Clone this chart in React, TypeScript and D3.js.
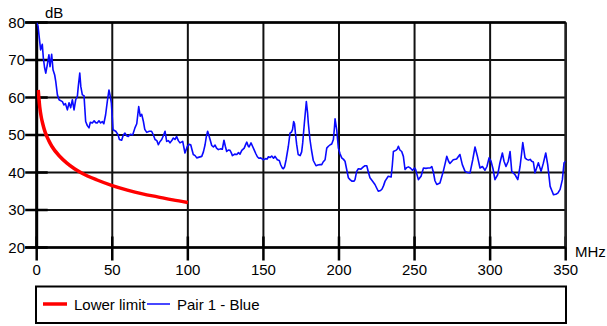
import React from "react";
import * as d3 from "d3";

const xTicks = [0, 50, 100, 150, 200, 250, 300, 350];
const yTicks = [20, 30, 40, 50, 60, 70, 80];

const limitFreq = [1, 2, 3, 4, 5, 6, 8, 10, 15, 20, 25, 30, 40, 50, 60, 70, 80, 90, 100];
const limitDb = [62, 57.5, 54.8, 53, 51.5, 50.3, 48.5, 47, 44.4, 42.5, 41, 39.8, 38, 36.5, 35.3, 34.3, 33.5, 32.7, 32];

const blueFreq = [
  0, 0.9, 1.5, 2.6, 3.2, 3.7, 4.4, 5.2, 6, 7, 8.1, 8.8, 9.9, 10.8, 11.9, 12.6, 13.7, 14.8, 17, 18, 19,
  20.3, 21.4, 22.5, 23.6, 24.7, 25.8, 26.9, 27.5, 28.5, 29.2, 30.2, 31.3, 32.4, 33.5, 34.6, 35.5, 36.8,
  38, 39, 40, 41.2, 42.3, 43.4, 44.4, 45.6, 46.7, 47.8, 48.5, 49.4, 50.5, 52.3, 53.8, 54.7, 56.2, 57.3,
  58.4, 59.5, 60.6, 62, 63.5, 65, 66.2, 67.5, 68.5, 69.5, 70.6, 71.5, 72.8, 74.5, 76, 77.2, 78.3, 79.5,
  80.5, 81.5, 82.7, 84, 84.9, 86, 87.2, 88.2, 89.5, 90.4, 91.5, 92.6, 93.7, 94.8, 96.6, 98.1, 99.7,
  100.8, 101.9, 102.8, 103.6, 104.8, 105.9, 107.5, 109.2, 110.3, 111.4, 112.2, 113.1, 114, 114.7, 115.8,
  116.9, 118, 119, 120.2, 121.5, 122.8, 123.9, 124.8, 125.7, 126.8, 127.9, 128.7, 129.5, 131, 132.4,
  133.5, 134.5, 135.7, 137.3, 138.3, 139, 140, 140.5, 141.8, 142.8, 143.8, 145, 146, 147, 148.2, 150,
  151.5, 152.5, 153.3, 154.5, 155.5, 156.7, 157.7, 159.2, 160.5, 161.5, 162.5, 163.2, 164, 165, 166.5,
  167.6, 168.6, 169.3, 170, 170.6, 171.3, 172, 173, 174.3, 175.3, 176, 177.1, 178.4, 179.2, 179.7,
  180.8, 181.8, 183, 184.8, 186, 187.5, 188.6, 189.5, 190.8, 191.9, 193, 194.2, 195.2, 196.3, 197,
  197.4, 198.5, 199.6, 200.7, 201.8, 203, 204, 205, 206.2, 207.3, 208.5, 210, 210.6, 211.7, 212.8,
  214.5, 216.1, 217.2, 218.4, 219.5, 220.5, 222, 223.8, 225, 226, 227.5, 228.5, 229.5, 230.5, 232.6,
  234.5, 235.3, 236, 237.6, 238.5, 239.3, 240.3, 241.5, 242.6, 243.7, 244.8, 245.9, 247.2, 248.6, 250,
  250.7, 252.5, 254.3, 255.9, 257.5, 259, 260.3, 261.4, 262.5, 263.5, 264.7, 266.8, 269, 270.3, 271.3,
  272.5, 273.4, 275.6, 277.8, 280, 281.6, 283.4, 285, 286.7, 288.5, 290, 291.6, 293.3, 294.9, 296.6,
  297.9, 299.3, 300.6, 301.9, 303.2, 305, 306.5, 308.1, 309.2, 310.5, 312, 313.2, 314.3, 316.5, 318.3,
  319.8, 320.8, 321.6, 323.1, 324.2, 325.3, 326.5, 327.5, 328.6, 329.7, 331.9, 333.7, 335.2, 336.8,
  338.1, 339.7, 341, 341.9, 343.5, 344.8, 346.3, 347.8, 348.9, 350,
];
const blueDb = [
  80, 79, 76.7, 72.7, 73.5, 74.2, 70.5, 68, 66.5, 68.7, 71.4, 68.2, 71.5, 67.4, 66, 64.3, 60.7, 59.4, 58.9, 58, 58.4,
  56.7, 58.6, 57.3, 59.4, 56.7, 59.4, 60.3, 62.9, 66.5, 62.9, 60.7, 60.5, 53.6, 52.5, 51.9, 53.4, 53.2,
  53.8, 53.3, 53.2, 53.8, 53.2, 53.6, 53, 55.4, 58.9, 62, 60.7, 58.5, 51.4, 51, 50.1, 48.8, 48.6, 50,
  50.5, 49.8, 49.6, 50.2, 50, 51.9, 53, 57.6, 55, 55.5, 53.6, 51.5, 50.7, 51, 51, 50, 48.8, 48.5,
  47.4, 48.2, 48.8, 50, 51, 48.3, 48.5, 47.9, 48.6, 49.2, 48.8, 49.6, 48.5, 47.9, 48.3, 45.2, 47,
  47.5, 47.4, 46, 44.8, 44.5, 43.9, 44.1, 44.3, 45.5, 47.4, 49.5, 51, 49.8, 48.8, 47.2,
  46.8, 47.3, 46.5, 46.1, 46.3, 46.2, 48.6, 47, 45.6, 46, 45.9, 45.3, 44.5, 44.9, 44.8,
  45.3, 44.9, 45.9, 46.5, 47.5, 48.1, 47, 46.8, 47.9, 47, 46.1, 45, 44.2, 43.8, 43.9, 43.4,
  43.7, 43.6, 44.2, 44, 44.4, 43.8, 44.3, 43.4, 43.2, 42, 41.2, 41, 41.5, 43.4, 47,
  50.5, 50.8, 51.5, 53.6, 53, 50, 47.5, 44.8, 44.5, 45.5, 47.9, 53.2, 58.9, 56, 53.2,
  48.8, 46, 43.2, 41.8, 42, 42.1, 42.1, 42.8, 43.4, 46.5, 47, 47.4, 47.6, 48.8, 52,
  54.3, 51.4, 46.5, 45, 43.9, 43.5, 43, 41, 38.6, 38.1, 37.7, 37.7, 38.1, 40.3, 41,
  40.9, 41.5, 41.8, 41.8, 40, 38.6, 37.8, 36.8, 35.8, 35, 35.2, 35.6, 36.5, 37.7, 39,
  38.8, 42, 45.6, 45.9, 46.2, 47, 46, 45.6, 44.3, 40.8, 41.3, 41.5, 41.2, 40.6, 41.2,
  40.8, 38.1, 39, 41.2, 41.1, 41.2, 41.2, 41.6, 40, 37.8, 36.8, 37.2, 40.3, 42.5, 44.3,
  43, 42.4, 43.4, 43.6, 44.8, 42.1, 40.3, 40, 39.9, 43.4, 46.8, 44.3, 41.2, 41.6, 40.6,
  41.6, 43.9, 43, 41, 38.1, 39.4, 42.6, 45.2, 43, 41.6, 43, 45.6, 40.3, 39.4, 38.1,
  41.6, 45, 48, 43.9, 43.5, 43.3, 43.5, 43, 42.8, 39.9, 42.6, 40.3, 42.5, 45.2,
  42.1, 36.3, 35, 34.1, 34.2, 34.5, 35.5, 38.1, 42.6, 43,
];

const W = 607;
const H = 326;
const FONT = "'Liberation Sans', Arial, sans-serif";

export default function App() {
  const x = d3.scaleLinear().domain([0, 350]).range([36.7, 565.7]);
  const y = d3.scaleLinear().domain([20, 80]).range([247.5, 22.5]);

  const limitLine = d3
    .line<number>()
    .x((_, i) => x(limitFreq[i]))
    .y((d) => y(d))
    .curve(d3.curveMonotoneX);
  const blueLine = d3
    .line<number>()
    .x((_, i) => x(blueFreq[i]))
    .y((d) => y(d));

  const x0 = x(0);
  const x1 = x(350);
  const yTop = y(80);
  const yBot = y(20);

  return (
    <svg
      width={W}
      height={H}
      style={{ position: "absolute", left: 0, top: 0, background: "#fff" }}
      fontFamily={FONT}
    >
      <defs>
        <clipPath id="plot">
          <rect x={x0} y={yTop} width={x1 - x0} height={yBot - yTop} />
        </clipPath>
      </defs>
      {/* grid */}
      {yTicks.map((t) => (
        <line key={"gy" + t} x1={x0} x2={x1} y1={y(t)} y2={y(t)} stroke="#111" strokeWidth={2} />
      ))}
      {xTicks.map((t) => (
        <line key={"gx" + t} x1={x(t)} x2={x(t)} y1={yTop} y2={yBot} stroke="#111" strokeWidth={2} />
      ))}
      {/* ticks */}
      {yTicks.map((t) => (
        <line key={"ty" + t} x1={x0 - 11.5} x2={x0 + 11} y1={y(t)} y2={y(t)} stroke="#000" strokeWidth={2.5} />
      ))}
      {xTicks.map((t) => (
        <line key={"tx" + t} x1={x(t)} x2={x(t)} y1={yBot - 11} y2={yBot + 13} stroke="#000" strokeWidth={2.5} />
      ))}
      {/* axes */}
      <line x1={x0} x2={x0} y1={yTop} y2={yBot} stroke="#000" strokeWidth={3} />
      <line x1={x1} x2={x1} y1={yTop} y2={yBot} stroke="#222" strokeWidth={2.5} />
      <line x1={x0 - 11.5} x2={x1} y1={yTop} y2={yTop} stroke="#000" strokeWidth={2.5} />
      <line x1={x0 - 11.5} x2={x1} y1={yBot} y2={yBot} stroke="#000" strokeWidth={2.5} />

      {/* series */}
      <g clipPath="url(#plot)">
        <path d={limitLine(limitDb) || ""} fill="none" stroke="#ff0000" strokeWidth={3.5} />
        <path d={blueLine(blueDb) || ""} fill="none" stroke="#0a0aff" strokeWidth={1.6} strokeLinejoin="round" />
      </g>

      {/* labels */}
      {yTicks.map((t) => (
        <text key={"ly" + t} x={25} y={y(t)} dy="0.36em" textAnchor="end" fontSize={15} fill="#000">
          {t}
        </text>
      ))}
      {xTicks.map((t) => (
        <text key={"lx" + t} x={x(t)} y={275} textAnchor="middle" fontSize={15} fill="#000">
          {t}
        </text>
      ))}
      <text x={45} y={18} fontSize={15} fill="#000">dB</text>
      <text x={575} y={256.5} fontSize={15} fill="#000">MHz</text>

      {/* legend */}
      <rect x={36} y={286.5} width={530} height={36.5} fill="#fff" stroke="#000" strokeWidth={2} />
      <line x1={43} x2={67} y1={304} y2={304} stroke="#ff0000" strokeWidth={3.5} />
      <text x={74} y={309.5} fontSize={15} fill="#000">Lower limit</text>
      <line x1={147} x2={170} y1={304} y2={304} stroke="#0a0aff" strokeWidth={1.5} />
      <text x={177} y={309.5} fontSize={15} fill="#000">Pair 1 - Blue</text>
    </svg>
  );
}
